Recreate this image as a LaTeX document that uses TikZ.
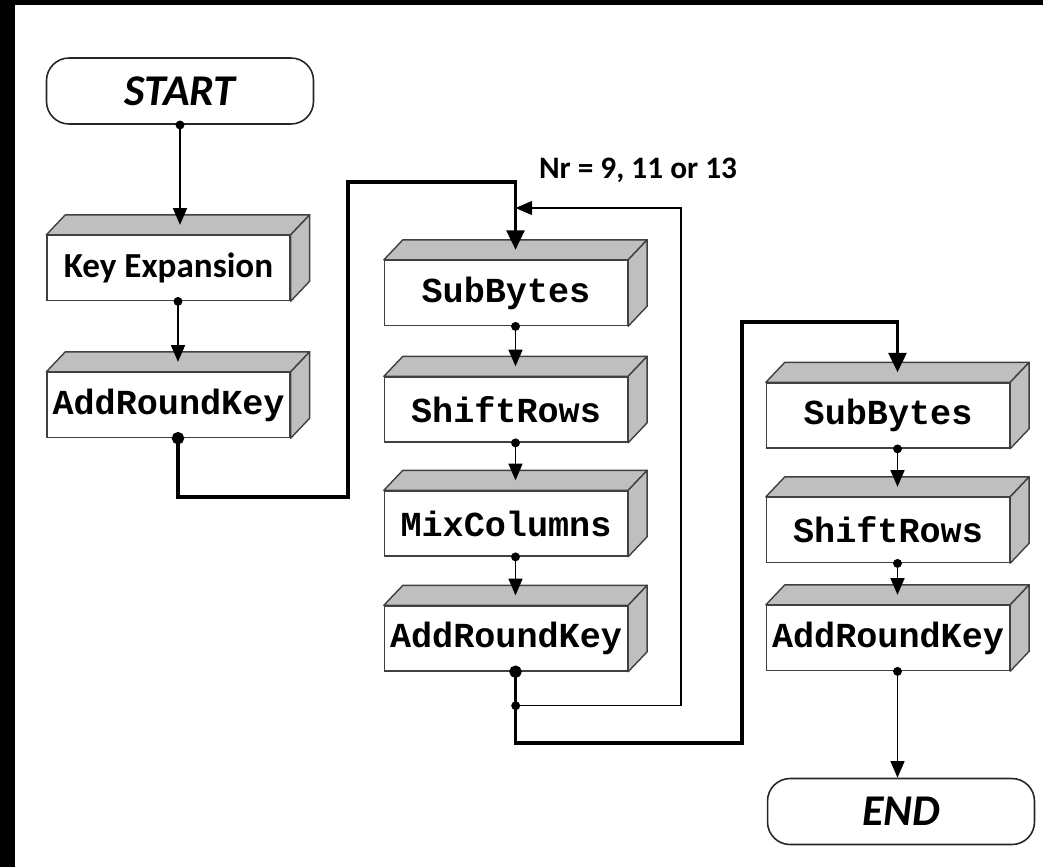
\documentclass[tikz,border=0pt]{standalone}
\usepackage{fontspec}
\newfontfamily\calib{Carlito}
\newfontfamily\cour{Liberation Mono}
\usetikzlibrary{arrows.meta}

\begin{document}
\begin{tikzpicture}[x=0.02cm,y=-0.02cm,
  term/.style={draw=black!85,line width=0.9pt,rounded corners=0.45cm,minimum width=5.34cm,
    minimum height=1.32cm,font=\calib\fontsize{25}{29}\selectfont\bfseries\itshape},
  stage/.style={draw=black!75,fill=white,line width=0.8pt,minimum width=4.86cm,minimum height=1.3cm,
    inner sep=0pt,font=\cour\fontsize{20}{24}\selectfont\bfseries},
  boxface/.style={draw=black!75,fill=black!25,line width=0.8pt,line join=round},
  flow/.style={line width=0.8pt,{Circle[length=5pt]}-{Triangle[length=9.5pt,width=8pt]},shorten <=-2.4pt},
  bus/.style={line width=2pt,{Circle[length=7pt]}-{Triangle[length=11pt,width=10pt]},shorten <=-3.5pt}]

  \useasboundingbox (0,0) rectangle (1043,867);
  \fill[black] (0,0) rectangle (15,867);
  \fill[black] (0,0) rectangle (1043,5);

  \node[term]  (start) at (180,91)    {START};
  \node[stage,font=\calib\fontsize{20}{24}\selectfont\bfseries] (kexp) at (168.5,268) {Key Expansion};
  \node[stage] (ark0)  at (168.5,405) {AddRoundKey};
  \node[stage] (sb1)   at (506,293)   {SubBytes};
  \node[stage] (sr1)   at (506,409.5) {ShiftRows};
  \node[stage] (mc1)   at (506,523.5) {MixColumns};
  \node[stage] (ark1)  at (506,638.5) {AddRoundKey};
  \node[stage] (sb2)   at (888,415.5) {SubBytes};
  \node[stage] (sr2)   at (888,530)   {ShiftRows};
  \node[stage] (ark2)  at (888,638)   {AddRoundKey};
  \node[term]  (end)   at (901,811.5) {END};
  \node[font=\calib\fontsize{17.8}{21}\selectfont\bfseries] (nr) at (638,170) {Nr = 9, 11 or 13};

  % top and side of each block
  \foreach \n in {kexp,ark0,sb1,sr1,mc1,ark1,sb2,sr2,ark2} {
    \filldraw[boxface] (\n.north west) -- ++(19,-20) -- ([shift={(19,-20)}]\n.north east) -- (\n.north east) -- cycle;
    \filldraw[boxface] (\n.north east) -- ++(19,-20) -- ([shift={(19,-20)}]\n.south east) -- (\n.south east) -- cycle;
    \coordinate (\n-in) at ([shift={(9.5,-10)}]\n.north);
    \coordinate (\n-out) at ([shift={(9.5,0)}]\n.south);
  }

  \path[flow]
    (start.south) edge (start.south |- kexp-in)
    (kexp-out) edge (ark0-in)
    (sb1-out) edge (sr1-in)
    (sr1-out) edge (mc1-in)
    (mc1-out) edge (ark1-in)
    (sb2-out) edge (sr2-in)
    (sr2-out) edge (ark2-in)
    (ark2-out) edge (ark2-out |- end.north);

  % rounds
  \draw[bus] (ark0-out) |- (348,497) -- (348,182) -| (sb1-in);
  \draw[bus] (ark1-out) |- (742,743) -- (742,322) -| (sb2-in);

  % repeat Nr times
  \coordinate (split) at ([shift={(0,34)}]ark1-out);
  \coordinate (loopy) at (681,208);
  \draw[flow] (split) -| (loopy) -- (sb1-in |- loopy);
\end{tikzpicture}
\end{document}
